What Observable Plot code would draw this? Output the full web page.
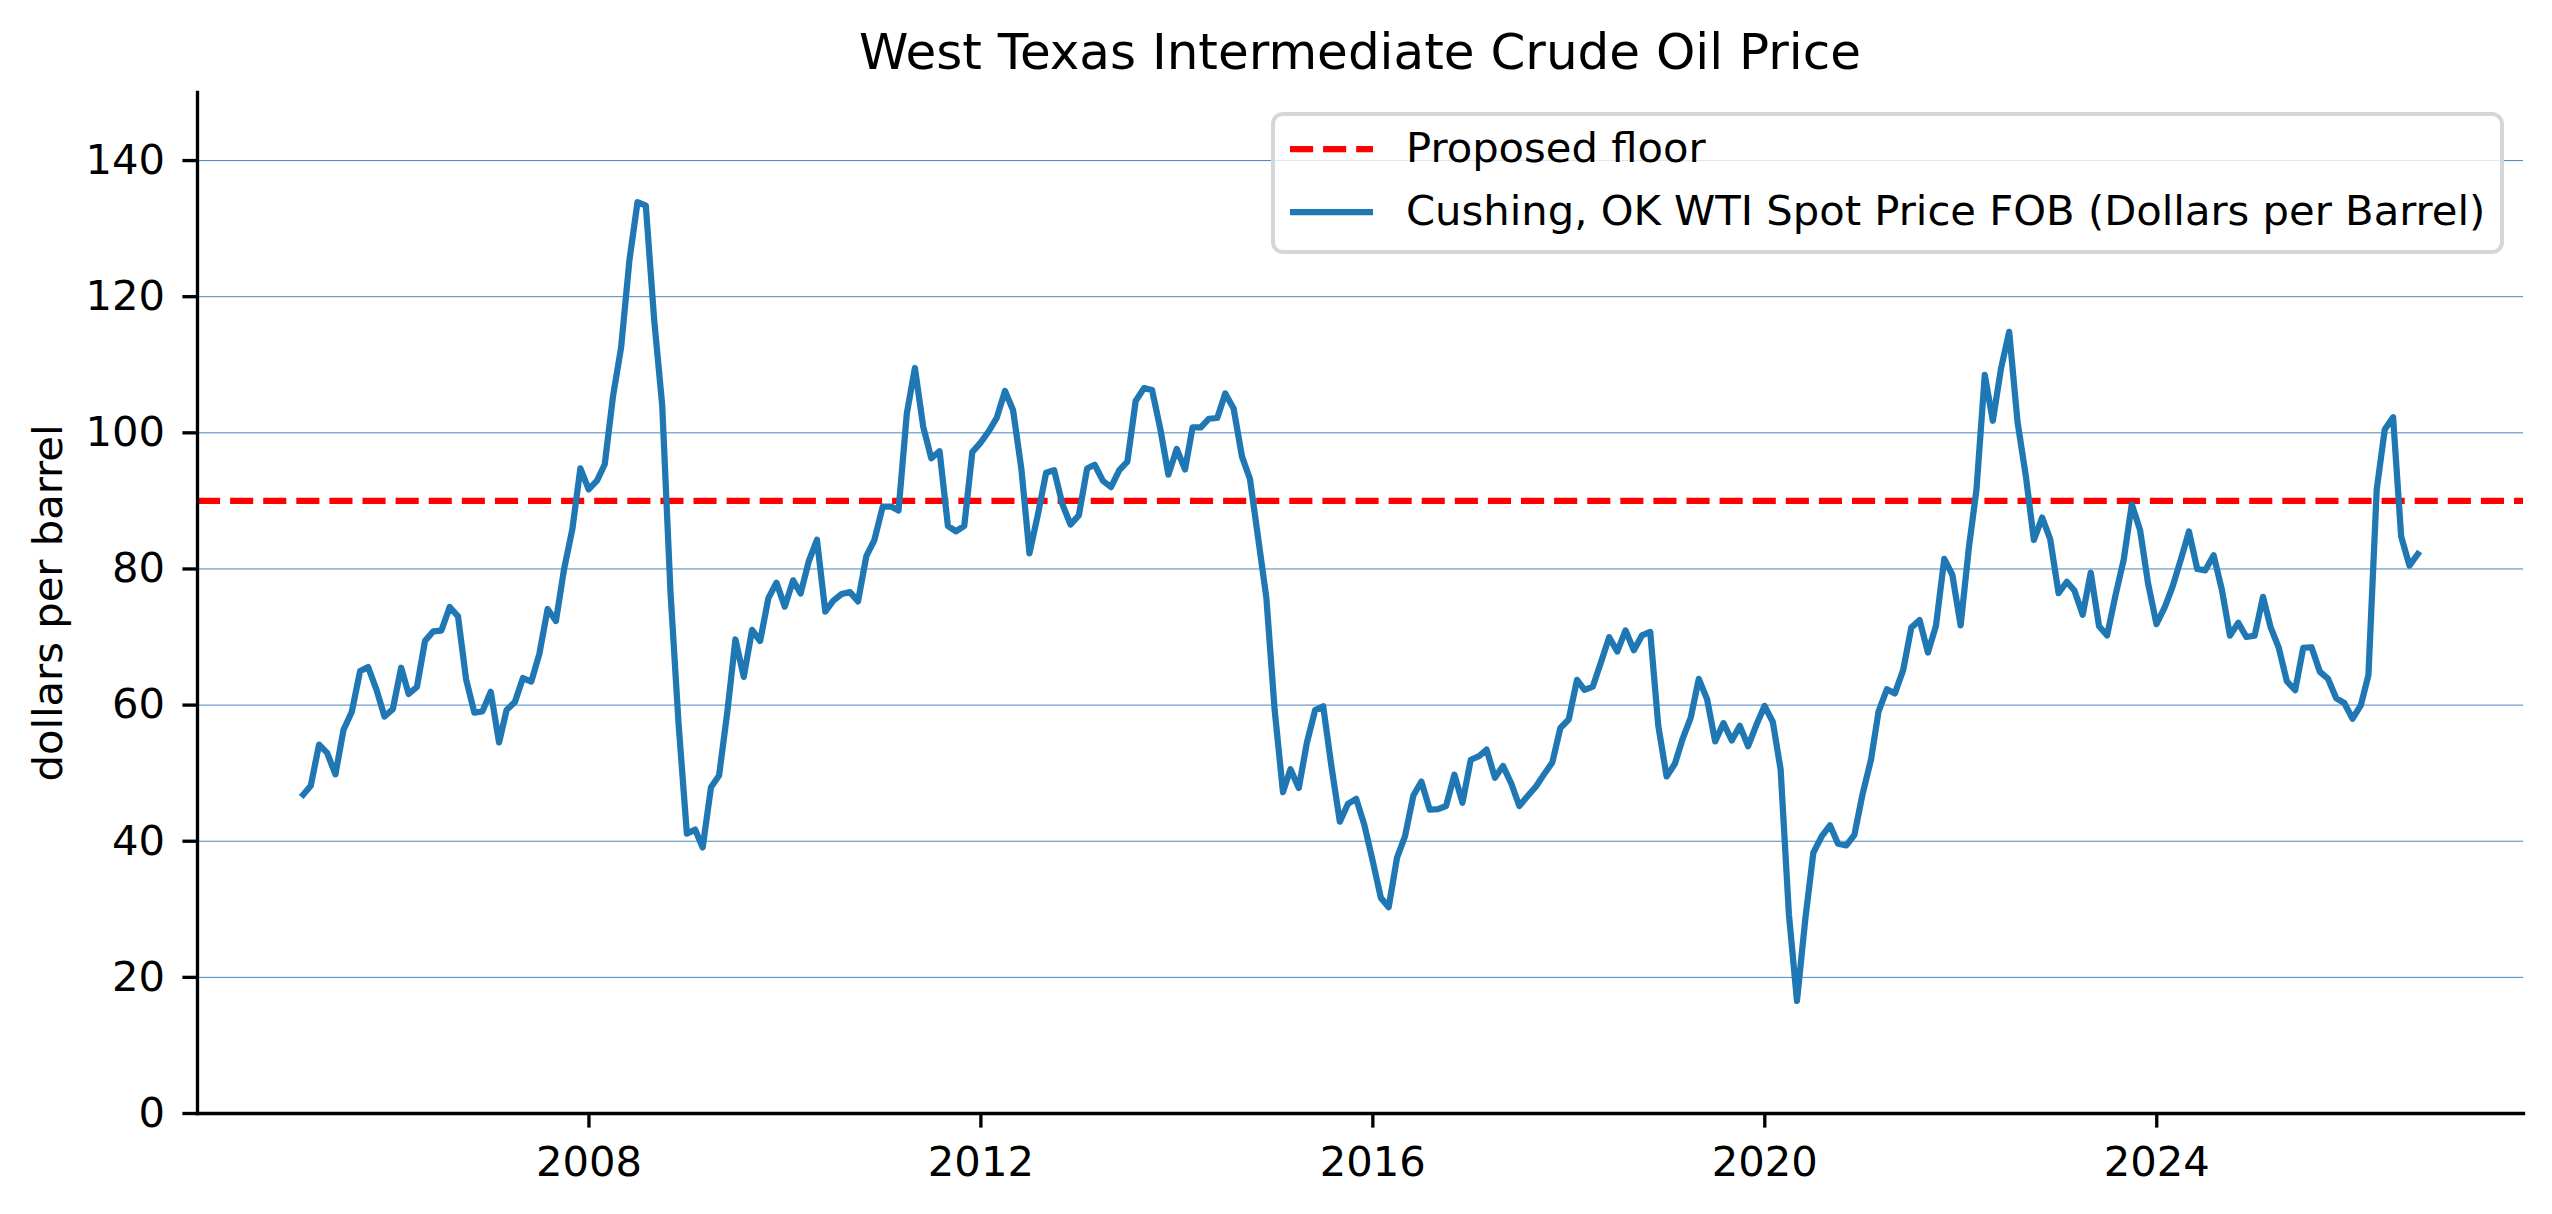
<!DOCTYPE html>
<html>
<head>
<meta charset="utf-8">
<script src="https://cdn.jsdelivr.net/npm/d3@7"></script>
<script src="https://cdn.jsdelivr.net/npm/@observablehq/plot@0.6"></script>
<style>
  html, body { margin: 0; padding: 0; background: #ffffff; }
  body { font-family: "DejaVu Sans", sans-serif; }
  #wrap { position: relative; width: 2552px; height: 1214px; overflow: hidden; }
  #titlebar { position: relative; height: 70px; }
  #title { position: absolute; left: 197px; width: 2326px; top: 27px; line-height: 50px;
           font-size: 50px; text-align: center; color: #000; white-space: nowrap; }
  #legend { position: absolute; left: 0; top: 0; pointer-events: none; }
</style>
</head>
<body>
<div id="wrap">
  <div id="titlebar"><div id="title">West Texas Intermediate Crude Oil Price</div></div>
  <div id="chart"></div>
  <svg id="legend" width="2552" height="300"></svg>
</div>
<script>
// ---- data ----
const firstYear = 2005;          // first month: January 2005 (month-end dates)
const titleText = "West Texas Intermediate Crude Oil Price";
const yLabel = "dollars per barrel";
const floorLabel = "Proposed floor";
const seriesLabel = "Cushing, OK WTI Spot Price FOB (Dollars per Barrel)";
const floorValue = 90;
const xTickYears = [2008, 2012, 2016, 2020, 2024];
const yTicks = [0, 20, 40, 60, 80, 100, 120, 140];

// monthly WTI spot price, Jan 2005 .. Aug 2026
const wti = [
  46.84, 48.15, 54.19, 52.98, 49.83, 56.35, 59.00, 64.99, 65.59, 62.26, 58.32, 59.41, // 2005
  65.49, 61.63, 62.69, 69.44, 70.84, 70.95, 74.41, 73.04, 63.80, 58.89, 59.08, 61.96, // 2006
  54.51, 59.28, 60.44, 63.98, 63.46, 67.49, 74.12, 72.36, 79.92, 85.80, 94.77, 91.69, // 2007
  92.97, 95.39, 105.45, 112.58, 125.40, 133.88, 133.37, 116.67, 104.11, 76.61, 57.31, 41.12, // 2008
  41.71, 39.09, 47.94, 49.65, 59.03, 69.64, 64.15, 71.05, 69.41, 75.72, 77.99, 74.47, // 2009
  78.33, 76.39, 81.20, 84.29, 73.74, 75.34, 76.32, 76.60, 75.24, 81.89, 84.25, 89.15, // 2010
  89.17, 88.58, 102.86, 109.53, 100.90, 96.26, 97.30, 86.33, 85.52, 86.32, 97.16, 98.56, // 2011
  100.27, 102.20, 106.16, 103.32, 94.66, 82.30, 87.90, 94.13, 94.51, 89.49, 86.53, 87.86, // 2012
  94.76, 95.31, 92.94, 92.02, 94.51, 95.77, 104.67, 106.57, 106.29, 100.54, 93.86, 97.63, // 2013
  94.62, 100.82, 100.80, 102.07, 102.18, 105.79, 103.59, 96.54, 93.21, 84.40, 75.79, 59.29, // 2014
  47.22, 50.58, 47.82, 54.45, 59.27, 59.82, 50.90, 42.87, 45.48, 46.22, 42.44, 37.19, // 2015
  31.68, 30.32, 37.55, 40.75, 46.71, 48.76, 44.65, 44.72, 45.18, 49.78, 45.66, 51.97, // 2016
  52.50, 53.47, 49.33, 51.06, 48.48, 45.18, 46.63, 48.04, 49.82, 51.58, 56.64, 57.88, // 2017
  63.70, 62.23, 62.73, 66.25, 69.98, 67.87, 70.98, 68.06, 70.23, 70.75, 56.96, 49.52, // 2018
  51.38, 54.95, 58.15, 63.86, 60.83, 54.66, 57.35, 54.81, 56.95, 53.96, 57.03, 59.88, // 2019
  57.52, 50.54, 29.21, 16.55, 28.56, 38.31, 40.71, 42.34, 39.63, 39.40, 40.94, 47.02, // 2020
  52.00, 59.04, 62.33, 61.72, 65.17, 71.38, 72.49, 67.73, 71.65, 81.48, 79.15, 71.71, // 2021
  83.22, 91.64, 108.50, 101.78, 109.55, 114.84, 101.62, 93.67, 84.26, 87.55, 84.37, 76.44, // 2022
  78.12, 76.83, 73.28, 79.45, 71.58, 70.25, 76.07, 81.39, 89.50, 85.70, 77.80, 71.90, // 2023
  74.40, 77.40, 81.40, 85.50, 80.00, 79.80, 82.00, 76.90, 70.20, 72.10, 70.00, 70.20, // 2024
  75.90, 71.50, 68.40, 63.50, 62.20, 68.40, 68.50, 64.90, 63.90, 61.00, 60.30, 58.00, // 2025
  60.00, 64.40, 91.70, 100.50, 102.30, 84.80, 80.50, 82.20                            // 2026
];

// table for the line (month-end dates)
const data = wti.map((price, i) => ({
  date: new Date(Date.UTC(firstYear, i + 1, 0)),
  price
}));

// matplotlib-style 5% margins on the date extent
const [d0, d1] = d3.extent(data, d => d.date);
const pad = (d1 - d0) * 0.05;
const xDomain = [new Date(+d0 - pad), new Date(+d1 + pad)];
const xTicks = xTickYears.map(y => new Date(Date.UTC(y, 0, 1)));

const blue = "#1f77b4";
const lw = 6.25;

const chart = Plot.plot({
  width: 2552,
  height: 1144,
  marginLeft: 197,
  marginRight: 29,
  marginTop: 22,
  marginBottom: 101,
  style: { fontFamily: "DejaVu Sans", fontSize: "41.7px", background: "#ffffff", color: "#000000", overflow: "visible" },
  x: { type: "utc", domain: xDomain },
  y: { domain: [0, 150] },
  marks: [
    Plot.gridY(yTicks, { stroke: "#4a86b9", strokeOpacity: 1, strokeWidth: 1 }),
    Plot.ruleY([floorValue], { stroke: "#ff0000", strokeWidth: lw, strokeDasharray: "23.1,10", strokeLinecap: "butt" }),
    Plot.line(data, { x: "date", y: "price", stroke: blue, strokeWidth: lw, strokeLinejoin: "round", strokeLinecap: "square" }),
    Plot.frame({ anchor: "left", stroke: "#000", strokeWidth: 3.33 }),
    Plot.frame({ anchor: "bottom", stroke: "#000", strokeWidth: 3.33 }),
    Plot.axisX({ ticks: xTicks, tickFormat: d3.utcFormat("%Y"), tickSize: 14.6, tickPadding: 18.2, strokeWidth: 3.33, label: null }),
    Plot.axisY({ ticks: yTicks, tickSize: 14.6, tickPadding: 17.8, strokeWidth: 3.33,
                 label: yLabel, labelAnchor: "center", labelArrow: "none", labelOffset: 165 })
  ]
});
document.getElementById("chart").appendChild(chart);
document.getElementById("title").textContent = titleText;

// ---- legend (overlay, matplotlib upper right) ----
const lg = d3.select("#legend");
lg.append("rect")
  .attr("x", 1273).attr("y", 114).attr("width", 2502 - 1273).attr("height", 252 - 114)
  .attr("rx", 10).attr("ry", 10)
  .attr("fill", "rgba(255,255,255,0.8)").attr("stroke", "#d6d6d6").attr("stroke-width", 4);
const rows = [
  { label: floorLabel, color: "#ff0000", dash: "23.1,10", cy: 149, base: 161.7 },
  { label: seriesLabel, color: blue, dash: null, cy: 212, base: 225 }
];
rows.forEach(r => {
  const ln = lg.append("line").attr("x1", 1290).attr("x2", 1373).attr("y1", r.cy).attr("y2", r.cy)
    .attr("stroke", r.color).attr("stroke-width", lw);
  if (r.dash) ln.attr("stroke-dasharray", r.dash);
  lg.append("text").attr("x", 1406).attr("y", r.base)
    .attr("font-family", "DejaVu Sans").attr("font-size", 41.7).attr("fill", "#000")
    .text(r.label);
});
</script>
</body>
</html>
